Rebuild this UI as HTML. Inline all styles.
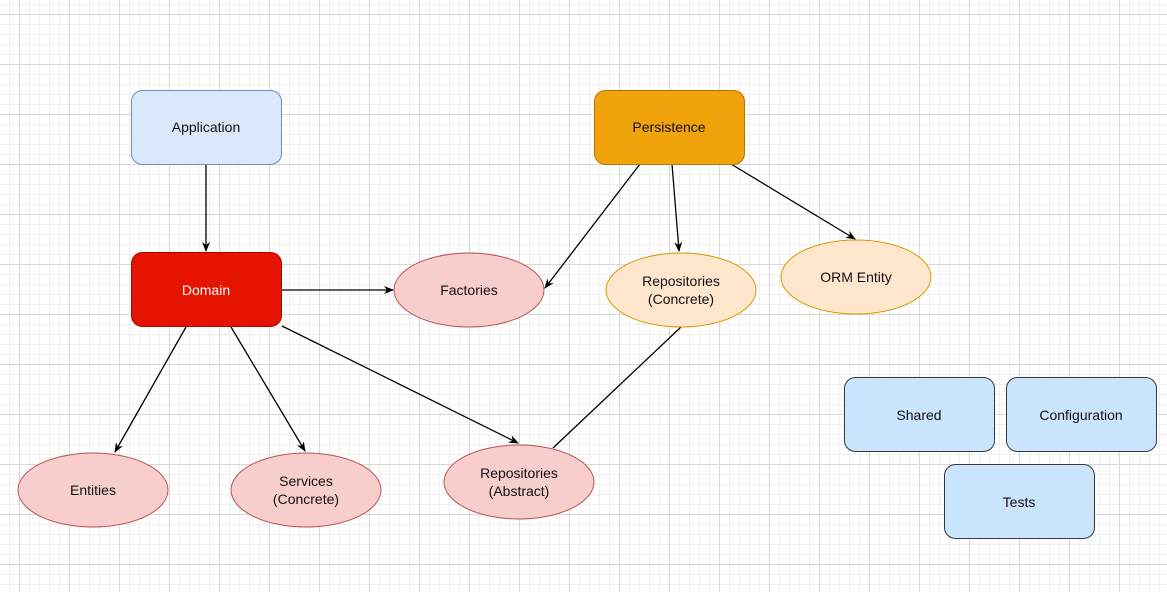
<!DOCTYPE html>
<html><head><style>
html,body{margin:0;padding:0;}
body{width:1167px;height:592px;overflow:hidden;background:#fff;
background-image:
linear-gradient(to right,#d8d8d8 1px,transparent 1px),
linear-gradient(to bottom,#d8d8d8 1px,transparent 1px),
linear-gradient(to right,#efefef 1px,transparent 1px),
linear-gradient(to bottom,#efefef 1px,transparent 1px);
background-size:50px 50px,50px 50px,10px 10px,10px 10px;
background-position:19px 14px,19px 14px,9px 4px,9px 4px;}
svg{position:absolute;left:0;top:0;}
text{font-family:"Liberation Sans",Arial,sans-serif;font-size:14px;text-anchor:middle;fill:#111;}
</style></head><body>
<svg width="1167" height="592" viewBox="0 0 1167 592">
<defs><marker id="a" markerWidth="10" markerHeight="10" refX="9" refY="5" orient="auto" markerUnits="userSpaceOnUse"><path d="M0,1 L10,5 L0,9 L3,5 Z" fill="#000"/></marker></defs>
<g stroke="#000" stroke-width="1.3" fill="none">
<line x1="206" y1="164" x2="206" y2="251" marker-end="url(#a)"/>
<line x1="282" y1="290" x2="393" y2="290" marker-end="url(#a)"/>
<line x1="640" y1="164" x2="545" y2="288" marker-end="url(#a)"/>
<line x1="672" y1="164" x2="679" y2="251" marker-end="url(#a)"/>
<line x1="731" y1="164" x2="855" y2="239" marker-end="url(#a)"/>
<line x1="186" y1="327" x2="115" y2="452" marker-end="url(#a)"/>
<line x1="231" y1="327" x2="305" y2="451" marker-end="url(#a)"/>
<line x1="282" y1="326" x2="518" y2="443" marker-end="url(#a)"/>
<line x1="681" y1="327" x2="553" y2="448"/>
</g>
<rect x="131.5" y="90.5" width="150" height="74" rx="11" fill="#dae8fc" stroke="#6c8ebf"/>
<text x="206" y="132">Application</text>
<rect x="594.5" y="90.5" width="150" height="74" rx="11" fill="#f0a30a" stroke="#BD7000"/>
<text x="669" y="132">Persistence</text>
<rect x="131.5" y="252.5" width="150" height="74" rx="11" fill="#e51400" stroke="#B20000"/>
<text x="206" y="295" style="fill:#fff">Domain</text>
<ellipse cx="469" cy="290" rx="75" ry="37" fill="#f8cecc" stroke="#b85450"/>
<text x="469" y="295">Factories</text>
<ellipse cx="681" cy="290" rx="75" ry="37" fill="#ffe6cc" stroke="#d79b00"/>
<text x="681" y="286">Repositories</text><text x="681" y="304">(Concrete)</text>
<ellipse cx="856" cy="277" rx="75" ry="37" fill="#ffe6cc" stroke="#d79b00"/>
<text x="856" y="282">ORM Entity</text>
<ellipse cx="93" cy="490" rx="75" ry="37" fill="#f8cecc" stroke="#b85450"/>
<text x="93" y="495">Entities</text>
<ellipse cx="306" cy="490" rx="75" ry="37" fill="#f8cecc" stroke="#b85450"/>
<text x="306" y="486">Services</text><text x="306" y="504">(Concrete)</text>
<ellipse cx="519" cy="482" rx="75" ry="37" fill="#f8cecc" stroke="#b85450"/>
<text x="519" y="478">Repositories</text><text x="519" y="496">(Abstract)</text>
<rect x="844.5" y="377.5" width="150" height="74" rx="11" fill="#cce5ff" stroke="#36393d"/>
<text x="919" y="420">Shared</text>
<rect x="1006.5" y="377.5" width="150" height="74" rx="11" fill="#cce5ff" stroke="#36393d"/>
<text x="1081" y="420">Configuration</text>
<rect x="944.5" y="464.5" width="150" height="74" rx="11" fill="#cce5ff" stroke="#36393d"/>
<text x="1019" y="507">Tests</text>
</svg>
</body></html>
